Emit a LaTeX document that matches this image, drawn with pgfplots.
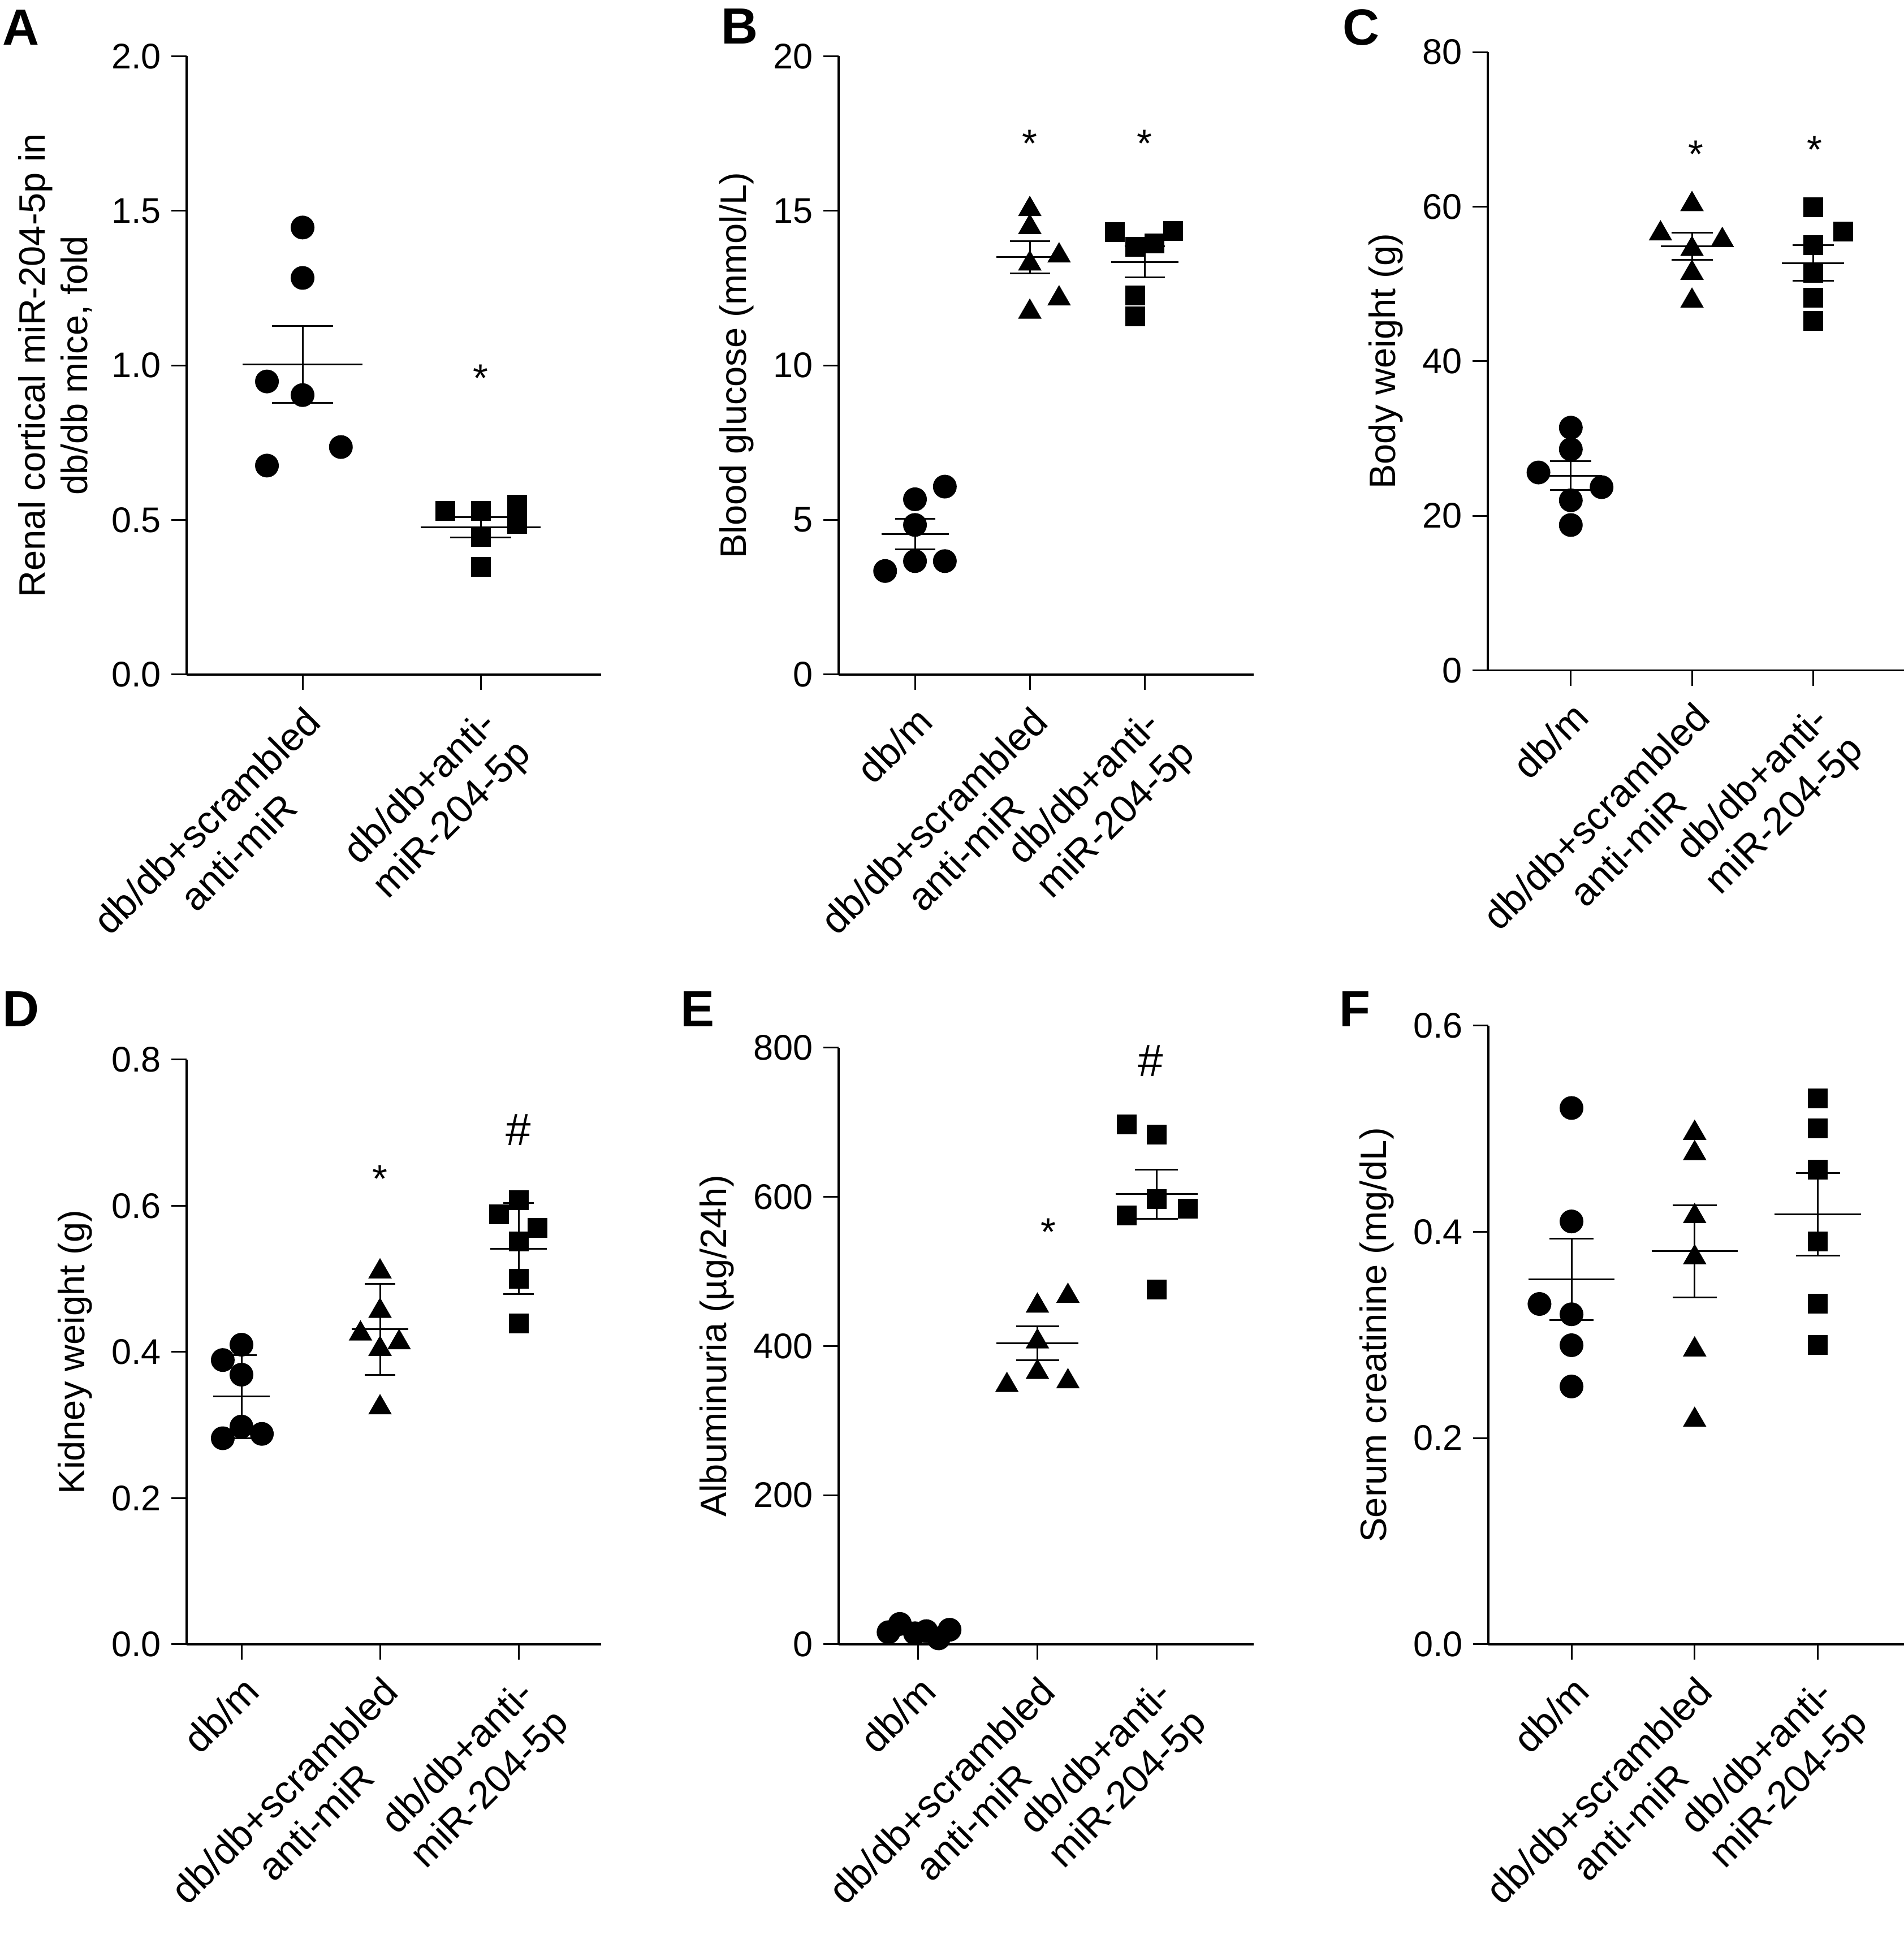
\documentclass[border=0pt]{standalone}
\usepackage{fontspec}
\setmainfont{Liberation Sans}
\usepackage{pgfplots}
\pgfplotsset{compat=1.18}

\newcommand{\tickfont}{\fontsize{12.6}{14}\selectfont}
\newcommand{\catfont}{\fontsize{13.8}{15.8}\selectfont}
\newcommand{\labfont}{\fontsize{13}{15}\selectfont}
\newcommand{\letfont}{\bfseries\fontsize{18}{21}\selectfont}

% mean line + error bar: x, line from, line to, mean, error, cap half-width
\newcommand{\meanbar}[6]{%
  \addplot[black, line width=0.6pt, no marks, forget plot] coordinates {(#2,#4) (#3,#4)};
  \addplot[draw=none, mark=none, forget plot,
    error bars/.cd, y dir=both, y explicit,
    error bar style={draw=black, solid, line width=0.6pt},
    error mark options={draw=black, solid, rotate=90, mark size=#6, line width=0.6pt}]
    coordinates {(#1,#4) +- (0,#5)};
}

\pgfplotsset{
  panel/.style={
    scale only axis, anchor=south west, clip=false,
    axis x line*=bottom, axis y line*=left,
    axis line style={-, line width=0.7pt, black},
    every tick/.style={black, line width=0.6pt},
    tick align=outside, major tick length=5.5pt,
    xtick={1,2,3},
    xticklabels={db/m, {db/db+scrambled\\anti-miR}, {db/db+anti-\\miR-204-5p}},
    xticklabel style={font=\catfont, rotate=45, anchor=north east, align=center},
    yticklabel style={font=\tickfont},
    ylabel style={font=\labfont, align=center},
    /pgf/number format/assume math mode=true,
    enlargelimits=false,
  },
  onedec/.style={yticklabel style={/pgf/number format/.cd, fixed, fixed zerofill, precision=1}},
  dots/.style={only marks, mark=*, mark size=4pt, mark options={fill=black, draw=none}},
  sq/.style={only marks, mark=square*, mark size=3.3pt, mark options={fill=black, draw=none}},
  tri/.style={only marks, mark=triangle*, mark size=4.4pt, mark options={fill=black, draw=none}},
}

\begin{document}
\begin{tikzpicture}
\useasboundingbox (0,0) rectangle (673.4pt,684.4pt);

% ---------- A ----------
\begin{axis}[panel, onedec, at={(66pt,445.8pt)}, width=146.6pt, height=218.7pt,
  xmin=0.349, xmax=2.676, ymin=0, ymax=2, ytick={0,0.5,1,1.5,2},
  xtick={1,2}, xticklabels={{db/db+scrambled\\anti-miR}, {db/db+anti-\\miR-204-5p}},
  ylabel={Renal cortical miR-204-5p in\\db/db mice, fold}]
\addplot[dots] coordinates {(1,1.446) (1,1.283) (0.80,0.948) (1,0.904) (1.215,0.736) (0.80,0.676)};
\addplot[sq] coordinates {(1.80,0.529) (2,0.529) (2.206,0.549) (2.206,0.488) (2,0.446) (2,0.348)};
\meanbar{1}{0.6625}{1.3375}{1.003}{0.124}{10.8pt}
\meanbar{2}{1.6625}{2.3375}{0.477}{0.033}{10.8pt}
\node[font=\catfont, yshift=-2.9pt] at (axis cs:2,0.986) {*};
\end{axis}

% ---------- B ----------
\begin{axis}[panel, at={(296.6pt,445.8pt)}, width=146.8pt, height=218.7pt,
  xmin=0.335, xmax=3.95, ymin=0, ymax=20, ytick={0,5,10,15,20},
  ylabel={Blood glucose (mmol/L)}]
\addplot[dots] coordinates {(0.74,3.35) (1,3.67) (1.26,3.67) (1,4.84) (1,5.67) (1.26,6.08)};
\addplot[tri] coordinates {(2,15.05) (2,14.47) (2,13.29) (2.255,13.55) (2.255,12.16) (2,11.73)};
\addplot[sq] coordinates {(2.74,14.31) (2.92,13.83) (3.085,13.95) (3.25,14.34) (2.92,12.27) (2.92,11.59)};
\meanbar{1}{0.707}{1.293}{4.55}{0.495}{7.1pt}
\meanbar{2}{1.707}{2.293}{13.50}{0.52}{7.1pt}
\meanbar{3}{2.707}{3.293}{13.35}{0.50}{7.1pt}
\node[font=\catfont, yshift=-2.9pt] at (axis cs:2,17.45) {*};
\node[font=\catfont, yshift=-2.9pt] at (axis cs:3,17.45) {*};
\end{axis}

% ---------- C ----------
\begin{axis}[panel, at={(526.2pt,447.3pt)}, width=147.2pt, height=218.7pt,
  xmin=0.315, xmax=3.75, ymin=0, ymax=80, ytick={0,20,40,60,80},
  ylabel={Body weight (g)}]
\addplot[dots] coordinates {(1,31.4) (1,28.6) (0.733,25.6) (1.254,23.7) (1,22.0) (1,18.8)};
\addplot[tri] coordinates {(2,60.3) (1.74,56.5) (2.25,55.65) (2,54.5) (2,51.4) (2,47.8)};
\addplot[sq] coordinates {(3,59.9) (3.25,56.8) (3,55.0) (3,51.4) (3,48.2) (3,45.2)};
\meanbar{1}{0.743}{1.257}{25.2}{1.9}{7.3pt}
\meanbar{2}{1.743}{2.257}{54.87}{1.77}{7.3pt}
\meanbar{3}{2.743}{3.257}{52.7}{2.3}{7.3pt}
\node[font=\catfont, yshift=-2.9pt] at (axis cs:2.03,67.8) {*};
\node[font=\catfont, yshift=-2.9pt] at (axis cs:3.01,68.4) {*};
\end{axis}

% ---------- D ----------
\begin{axis}[panel, onedec, at={(66pt,102.8pt)}, width=146.6pt, height=206.8pt,
  xmin=0.604, xmax=3.596, ymin=0, ymax=0.8, ytick={0,0.2,0.4,0.6,0.8},
  ylabel={Kidney weight (g)}]
\addplot[dots] coordinates {(1,0.410) (0.865,0.389) (1,0.369) (1,0.298) (0.865,0.282) (1.147,0.288)};
\addplot[tri] coordinates {(2,0.510) (2,0.456) (1.859,0.425) (2.138,0.413) (2,0.404) (2,0.324)};
\addplot[sq] coordinates {(3,0.608) (2.859,0.588) (3.138,0.570) (3,0.551) (3,0.500) (3,0.439)};
\meanbar{1}{0.794}{1.206}{0.339}{0.057}{5.4pt}
\meanbar{2}{1.794}{2.206}{0.431}{0.062}{5.4pt}
\meanbar{3}{2.794}{3.206}{0.5415}{0.062}{5.4pt}
\node[font=\catfont, yshift=-2.9pt] at (axis cs:2,0.648) {*};
\node[font=\fontsize{16}{18}\selectfont] at (axis cs:3,0.704) {\#};
\end{axis}

% ---------- E ----------
\begin{axis}[panel, at={(296.6pt,102.8pt)}, width=146.8pt, height=211pt,
  xmin=0.332, xmax=3.815, ymin=0, ymax=800, ytick={0,200,400,600,800},
  ylabel={Albuminuria (µg/24h)}]
\meanbar{1}{0.655}{1.345}{17.3}{2.6}{7.6pt}
\addplot[dots] coordinates {(0.751,16.3) (0.846,27.4) (0.973,14.9) (1.068,17.7) (1.171,8.0) (1.263,19.6)};
\addplot[tri] coordinates {(2.256,467) (2,454) (2,406) (1.744,347.5) (2,365) (2.256,352.5)};
\addplot[sq] coordinates {(2.751,697.5) (3.0,683.6) (3.0,596.9) (2.751,574.8) (3.263,584.3) (3.0,476.1)};
\meanbar{2}{1.655}{2.345}{403.8}{22.6}{7.6pt}
\meanbar{3}{2.655}{3.345}{603.8}{33}{7.6pt}
\node[font=\catfont, yshift=-2.9pt] at (axis cs:2.09,564) {*};
\node[font=\fontsize{16}{18}\selectfont] at (axis cs:2.95,782.5) {\#};
\end{axis}

% ---------- F ----------
\begin{axis}[panel, onedec, at={(526.4pt,102.8pt)}, width=147pt, height=218.9pt,
  xmin=0.325, xmax=3.70, ymin=0, ymax=0.6, ytick={0,0.2,0.4,0.6},
  ylabel={Serum creatinine (mg/dL)}]
\addplot[dots] coordinates {(1,0.520) (1,0.410) (0.74,0.330) (1,0.320) (1,0.290) (1,0.250)};
\addplot[tri] coordinates {(2,0.4957) (2,0.476) (2,0.415) (2,0.375) (2,0.2857) (2,0.2175)};
\addplot[sq] coordinates {(3,0.5295) (3,0.500) (3,0.460) (3,0.3905) (3,0.3305) (3,0.2905)};
\meanbar{1}{0.65}{1.35}{0.354}{0.0395}{7.8pt}
\meanbar{2}{1.65}{2.35}{0.381}{0.0445}{7.8pt}
\meanbar{3}{2.65}{3.35}{0.4168}{0.040}{7.8pt}
\end{axis}

% panel letters
\node[anchor=base west, inner sep=0pt, font=\letfont] at (0.8pt,668.4pt) {A};
\node[anchor=base west, inner sep=0pt, font=\letfont] at (254.8pt,668.8pt) {B};
\node[anchor=base west, inner sep=0pt, font=\letfont] at (474.6pt,668.4pt) {C};
\node[anchor=base west, inner sep=0pt, font=\letfont] at (0.8pt,321.2pt) {D};
\node[anchor=base west, inner sep=0pt, font=\letfont] at (240.4pt,321.2pt) {E};
\node[anchor=base west, inner sep=0pt, font=\letfont] at (473.4pt,321.2pt) {F};
\end{tikzpicture}
\end{document}
